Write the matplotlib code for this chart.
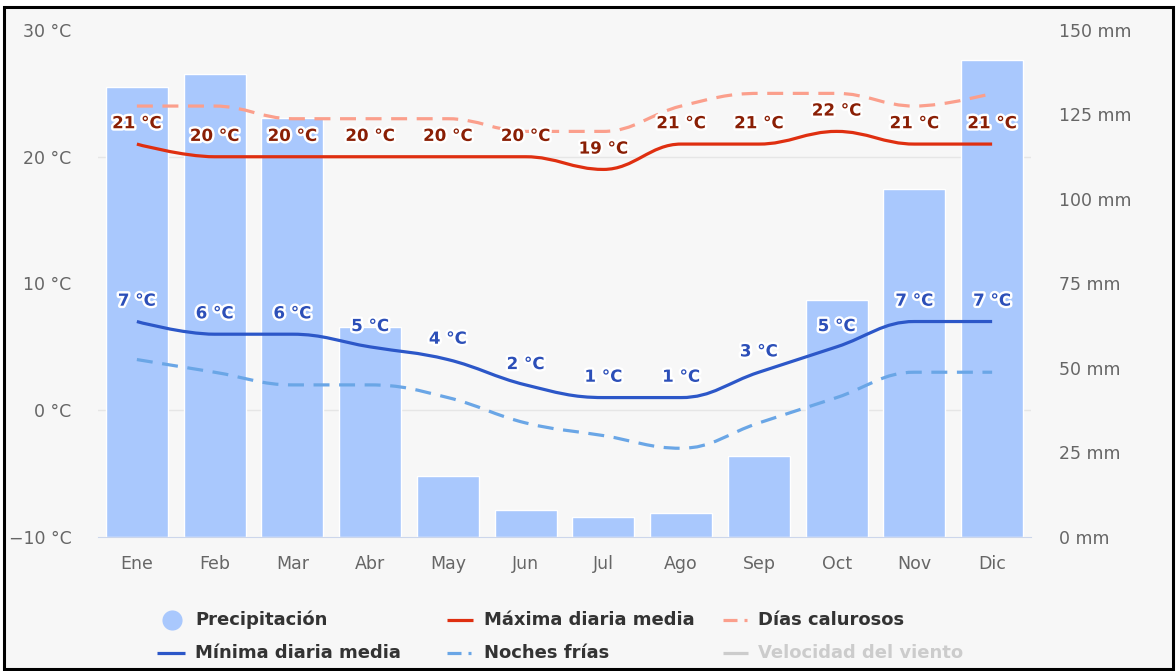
import matplotlib
matplotlib.use("Agg")
import matplotlib.pyplot as plt
import matplotlib.patheffects as pe
from matplotlib.lines import Line2D
from matplotlib.patches import PathPatch, Rectangle
from matplotlib.path import Path
from matplotlib.ticker import FixedLocator

plt.rcParams["font.family"] = ["DejaVu Sans"]

months = ["Ene", "Feb", "Mar", "Abr", "May", "Jun",
          "Jul", "Ago", "Sep", "Oct", "Nov", "Dic"]
precip_mm = [133, 137, 124, 62, 18, 8, 6, 7, 24, 70, 103, 141]
max_temp = [21, 20, 20, 20, 20, 20, 19, 21, 21, 22, 21, 21]
min_temp = [7, 6, 6, 5, 4, 2, 1, 1, 3, 5, 7, 7]
hot_days = [24, 24, 23, 23, 23, 22, 22, 24, 25, 25, 24, 25]
cold_nights = [4, 3, 2, 2, 1, -1, -2, -3, -1, 1, 3, 3]

temp_ticks = [-10, 0, 10, 20, 30]
mm_ticks = [0, 25, 50, 75, 100, 125, 150]

BG = "#f7f7f7"
W, H = 1176, 671


def spline_path(xs, ys, smoothing=1.5):
    """Smooth line through the points (Highcharts-style spline)."""
    n = len(xs)
    left = [None] * n
    right = [None] * n
    for i in range(1, n - 1):
        px, py = xs[i], ys[i]
        lx, ly = xs[i - 1], ys[i - 1]
        nx, ny = xs[i + 1], ys[i + 1]
        d = smoothing + 1
        lcx = (smoothing * px + lx) / d
        lcy = (smoothing * py + ly) / d
        rcx = (smoothing * px + nx) / d
        rcy = (smoothing * py + ny) / d
        corr = (rcy - lcy) * (rcx - px) / (rcx - lcx) + py - rcy
        lcy += corr
        rcy += corr
        if lcy > ly and lcy > py:
            lcy = max(ly, py)
            rcy = 2 * py - lcy
        elif lcy < ly and lcy < py:
            lcy = min(ly, py)
            rcy = 2 * py - lcy
        if rcy > ny and rcy > py:
            rcy = max(ny, py)
            lcy = 2 * py - rcy
        elif rcy < ny and rcy < py:
            rcy = min(ny, py)
            lcy = 2 * py - rcy
        left[i] = (lcx, lcy)
        right[i] = (rcx, rcy)
    verts = [(xs[0], ys[0])]
    codes = [Path.MOVETO]
    for i in range(1, n):
        c1 = right[i - 1] if right[i - 1] else (xs[i - 1], ys[i - 1])
        c2 = left[i] if left[i] else (xs[i], ys[i])
        verts += [c1, c2, (xs[i], ys[i])]
        codes += [Path.CURVE4] * 3
    return Path(verts, codes)


fig = plt.figure(figsize=(W / 100, H / 100), dpi=100, facecolor="white")
fig.patches.append(Rectangle((4 / W, 2 / H), 1169 / W, 662 / H,
                             transform=fig.transFigure, facecolor=BG,
                             edgecolor="black", linewidth=2.2, zorder=-5))

ax = fig.add_axes([98 / W, 1 - 537 / H, 933 / W, 507 / H])
ax2 = ax.twinx()
ax2.set_zorder(0)
ax.set_zorder(1)
ax.patch.set_visible(False)
ax2.patch.set_visible(False)

x = list(range(len(months)))

# precipitation bars on the mm axis
ax2.bar(x, precip_mm, width=0.8, color="#a9c8fd", edgecolor="white",
        linewidth=1, zorder=2)
ax2.set_ylim(0, 150)
ax2.set_yticks(mm_ticks)
ax2.set_yticklabels([f"{v} mm" for v in mm_ticks])

# temperature grid drawn behind the bars
grid_pos = [(t + 10) * 150 / 40 for t in temp_ticks]
ax2.yaxis.set_minor_locator(FixedLocator(grid_pos))
ax2.grid(True, which="minor", axis="y", color="#e6e6e6", linewidth=1, zorder=0)
ax2.tick_params(axis="y", which="minor", length=0)

ax.set_xlim(-0.5, 11.5)
ax.set_ylim(-10, 30)
ax.set_yticks(temp_ticks)
ax.set_yticklabels([f"{t} °C".replace("-", "\u2212") for t in temp_ticks])
ax.set_xticks(x)
ax.set_xticklabels(months)

for a in (ax, ax2):
    for s in a.spines.values():
        s.set_visible(False)
ax.spines["bottom"].set_visible(True)
ax.spines["bottom"].set_color("#ccd6eb")
ax.tick_params(axis="both", length=0, labelsize=12.5, labelcolor="#666666")
ax.tick_params(axis="y", pad=19)
ax.tick_params(axis="x", pad=13)
ax2.tick_params(axis="y", which="major", length=0, labelsize=12.5,
                labelcolor="#666666", pad=20)

series = [
    (hot_days, "#fb9f8c", (0, (5, 3))),
    (cold_nights, "#6aa6e6", (0, (5, 3))),
    (max_temp, "#df2f10", "solid"),
    (min_temp, "#2c57c8", "solid"),
]
for vals, col, ls in series:
    ax.add_patch(PathPatch(spline_path(x, vals), fill=False, edgecolor=col,
                           linewidth=2.3, linestyle=ls, capstyle="butt",
                           zorder=3))

halo = [pe.withStroke(linewidth=3.5, foreground="white")]
for vals, col in [(max_temp, "#8a1f05"), (min_temp, "#2c4fb8")]:
    for xi, v in zip(x, vals):
        ax.annotate(f"{v} °C", (xi, v), xytext=(0, 15),
                    textcoords="offset points", ha="center", va="center",
                    fontsize=12, fontweight="bold", color=col,
                    path_effects=halo, zorder=5, annotation_clip=False)


def fx(px):
    return px / W


def fy(py):
    return 1 - py / H


# legend
fig.add_artist(Line2D([fx(172)], [fy(620)], transform=fig.transFigure,
                      marker="o", markersize=14.5, color="#a9c8fd",
                      markeredgewidth=0, linestyle="none"))
legend_lines = [
    ([(447, 473)], 620, "#df2f10", "#333333", 484, "Máxima diaria media"),
    ([(723, 737), (744, 747)], 620, "#fb9f8c", "#333333", 758, "Días calurosos"),
    ([(157, 185)], 653, "#2c57c8", "#333333", 195, "Mínima diaria media"),
    ([(447, 461), (468, 471)], 653, "#6aa6e6", "#333333", 484, "Noches frías"),
    ([(723, 748)], 653, "#cccccc", "#cccccc", 758, "Velocidad del viento"),
]
for segs, py, col, tcol, tx, label in legend_lines:
    for x0, x1 in segs:
        fig.add_artist(Line2D([fx(x0), fx(x1)], [fy(py), fy(py)],
                              transform=fig.transFigure, color=col,
                              linewidth=2.3, solid_capstyle="butt"))
    fig.text(fx(tx), fy(py), label, ha="left", va="center", fontsize=13,
             fontweight="bold", color=tcol)
fig.text(fx(195), fy(620), "Precipitación", ha="left", va="center",
         fontsize=13, fontweight="bold", color="#333333")

fig.savefig("out.png", dpi=100, facecolor=fig.get_facecolor())
